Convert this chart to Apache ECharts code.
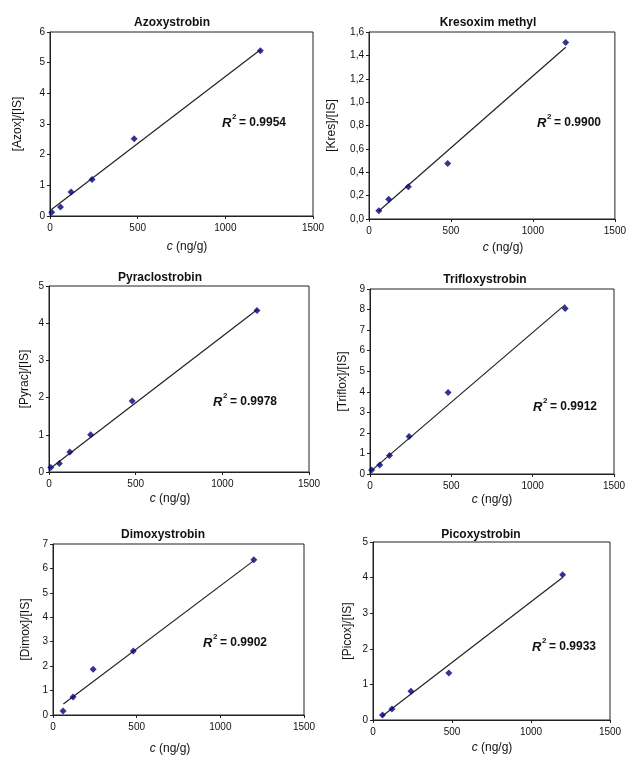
<!DOCTYPE html>
<html>
<head>
<meta charset="utf-8">
<title>calibration curves</title>
<script src="https://cdn.jsdelivr.net/npm/echarts@6.0.0/dist/echarts.min.js"></script>
<style>
  html, body { margin: 0; padding: 0; background: #fff; }
  #main { width: 629px; height: 758px; }
</style>
</head>
<body>
<div id="main"></div>
<script>
// values: concentration (ng/g) vs. area ratio
var azoxC = [10, 60, 120, 240, 480, 1200];
var azoxR = [0.12, 0.29, 0.78, 1.19, 2.52, 5.39];
var azoxFit = [[10, 0.22], [1200, 5.42]];

var kresC = [60, 120, 240, 480, 1200];
var kresR = [0.07, 0.168, 0.275, 0.475, 1.51];
var kresFit = [[60, 0.068], [1200, 1.47]];

var pyraC = [10, 60, 120, 240, 480, 1200];
var pyraR = [0.12, 0.23, 0.54, 1.0, 1.91, 4.34];
var pyraFit = [[10, 0.11], [1200, 4.36]];

var trifC = [10, 60, 120, 240, 480, 1200];
var trifR = [0.19, 0.44, 0.9, 1.83, 3.97, 8.05];
var trifFit = [[5, 0.14], [1200, 8.24]];

var dimoC = [60, 120, 240, 480, 1200];
var dimoR = [0.16, 0.74, 1.87, 2.62, 6.36];
var dimoFit = [[62, 0.45], [1200, 6.32]];

var picoC = [60, 120, 240, 480, 1200];
var picoR = [0.14, 0.31, 0.81, 1.32, 4.08];
var picoFit = [[55, 0.1], [1200, 4.0]];

var xTicks = [0, 500, 1000, 1500];

function pairs(xs, ys) {
    var out = [];
    for (var i = 0; i < xs.length; i++) out.push([xs[i], ys[i]]);
    return out;
}

// layout for each panel (pixels)
var panels = [
    { title: 'Azoxystrobin', yName: '[Azox]/[IS]', yMax: 6, yStep: 1, r2: '0.9954',
      grid: [50, 32, 263, 184], tx: 172, ty: 23, nx: 187, ny: 247, ryX: 18, r2x: 222, r2y: 123,
      pts: pairs(azoxC, azoxR), fit: azoxFit },
    { title: 'Kresoxim methyl', yName: '[Kres]/[IS]', yMax: 1.6, yStep: 0.2, r2: '0.9900', comma: true,
      grid: [369, 32, 248, 187], tx: 488, ty: 23, nx: 503, ny: 248, ryX: 332, r2x: 537, r2y: 123,
      pts: pairs(kresC, kresR), fit: kresFit },
    { title: 'Pyraclostrobin', yName: '[Pyrac]/[IS]', yMax: 5, yStep: 1, r2: '0.9978',
      grid: [49, 286, 260, 186], tx: 160, ty: 278, nx: 170, ny: 499, ryX: 25, r2x: 213, r2y: 402,
      pts: pairs(pyraC, pyraR), fit: pyraFit },
    { title: 'Trifloxystrobin', yName: '[Triflox]/[IS]', yMax: 9, yStep: 1, r2: '0.9912',
      grid: [370, 289, 244, 185], tx: 485, ty: 280, nx: 492, ny: 500, ryX: 343, r2x: 533, r2y: 407,
      pts: pairs(trifC, trifR), fit: trifFit },
    { title: 'Dimoxystrobin', yName: '[Dimox]/[IS]', yMax: 7, yStep: 1, r2: '0.9902',
      grid: [53, 544, 251, 171], tx: 163, ty: 535, nx: 170, ny: 749, ryX: 26, r2x: 203, r2y: 643,
      pts: pairs(dimoC, dimoR), fit: dimoFit },
    { title: 'Picoxystrobin', yName: '[Picox]/[IS]', yMax: 5, yStep: 1, r2: '0.9933',
      grid: [373, 542, 237, 178], tx: 481, ty: 535, nx: 492, ny: 748, ryX: 348, r2x: 532, r2y: 647,
      pts: pairs(picoC, picoR), fit: picoFit }
];

var FONT = 'Liberation Sans, Arial, sans-serif';
var TXT = '#111';

var grids = [], xAxes = [], yAxes = [], series = [], graphics = [];

panels.forEach(function (p, i) {
    grids.push({ left: p.grid[0], top: p.grid[1], width: p.grid[2], height: p.grid[3],
                 show: true, borderColor: '#222', borderWidth: 1, backgroundColor: '#fff' });
    xAxes.push({
        type: 'value', gridIndex: i, min: xTicks[0], max: xTicks[xTicks.length - 1], interval: 500,
        axisLine: { lineStyle: { color: '#222', width: 1 } },
        axisTick: { show: true, length: 3, lineStyle: { color: '#222' } },
        axisLabel: { color: TXT, fontSize: 10, fontFamily: FONT, margin: 7,
                     formatter: function (v) { return String(v); } },
        splitLine: { show: false }
    });
    yAxes.push({
        type: 'value', gridIndex: i, min: 0, max: p.yMax, interval: p.yStep,
        axisLine: { show: true, lineStyle: { color: '#222', width: 1 } },
        axisTick: { show: true, length: 3, lineStyle: { color: '#222' } },
        axisLabel: { color: TXT, fontSize: 10, fontFamily: FONT, margin: 5,
                     formatter: p.comma ? function (v) { return v.toFixed(1).replace('.', ','); }
                                        : function (v) { return String(v); } },
        splitLine: { show: false }
    });
    series.push({
        type: 'line', xAxisIndex: i, yAxisIndex: i, data: p.fit, symbol: 'none',
        lineStyle: { color: '#222', width: 1.2 }, silent: true, z: 2
    });
    series.push({
        type: 'scatter', xAxisIndex: i, yAxisIndex: i, data: p.pts, symbol: 'diamond',
        symbolSize: 7, itemStyle: { color: '#00007a' }, z: 3
    });

    // panel title
    graphics.push({ type: 'text', x: p.tx, y: p.ty,
        style: { text: p.title, font: 'bold 12px ' + FONT, fill: TXT, align: 'center', verticalAlign: 'middle' } });
    // y axis name
    graphics.push({ type: 'text', x: p.ryX, y: p.grid[1] + p.grid[3] / 2, rotation: Math.PI / 2,
        style: { text: p.yName, font: '12px ' + FONT, fill: TXT, align: 'center', verticalAlign: 'middle' } });
    // x axis name
    graphics.push({ type: 'text', x: p.nx, y: p.ny,
        style: { text: '{i|c} (ng/g)', fill: TXT, align: 'center', verticalAlign: 'middle',
                 font: '12px ' + FONT,
                 rich: { i: { fontStyle: 'italic', fontSize: 12, fontFamily: FONT, fill: TXT } } } });
    // R^2 label
    graphics.push({ type: 'text', x: p.r2x, y: p.r2y,
        style: { text: 'R', font: 'italic bold 13px ' + FONT, fill: TXT, align: 'left', verticalAlign: 'middle' } });
    graphics.push({ type: 'text', x: p.r2x + 10, y: p.r2y - 6,
        style: { text: '2', font: 'bold 8px ' + FONT, fill: TXT, align: 'left', verticalAlign: 'middle' } });
    graphics.push({ type: 'text', x: p.r2x + 17, y: p.r2y,
        style: { text: '= ' + p.r2, font: 'bold 12px ' + FONT, fill: TXT, align: 'left', verticalAlign: 'middle' } });
});

var chart = echarts.init(document.getElementById('main'));
chart.setOption({
    backgroundColor: '#fff',
    animation: false,
    grid: grids,
    xAxis: xAxes,
    yAxis: yAxes,
    series: series,
    graphic: graphics
});
</script>
</body>
</html>
